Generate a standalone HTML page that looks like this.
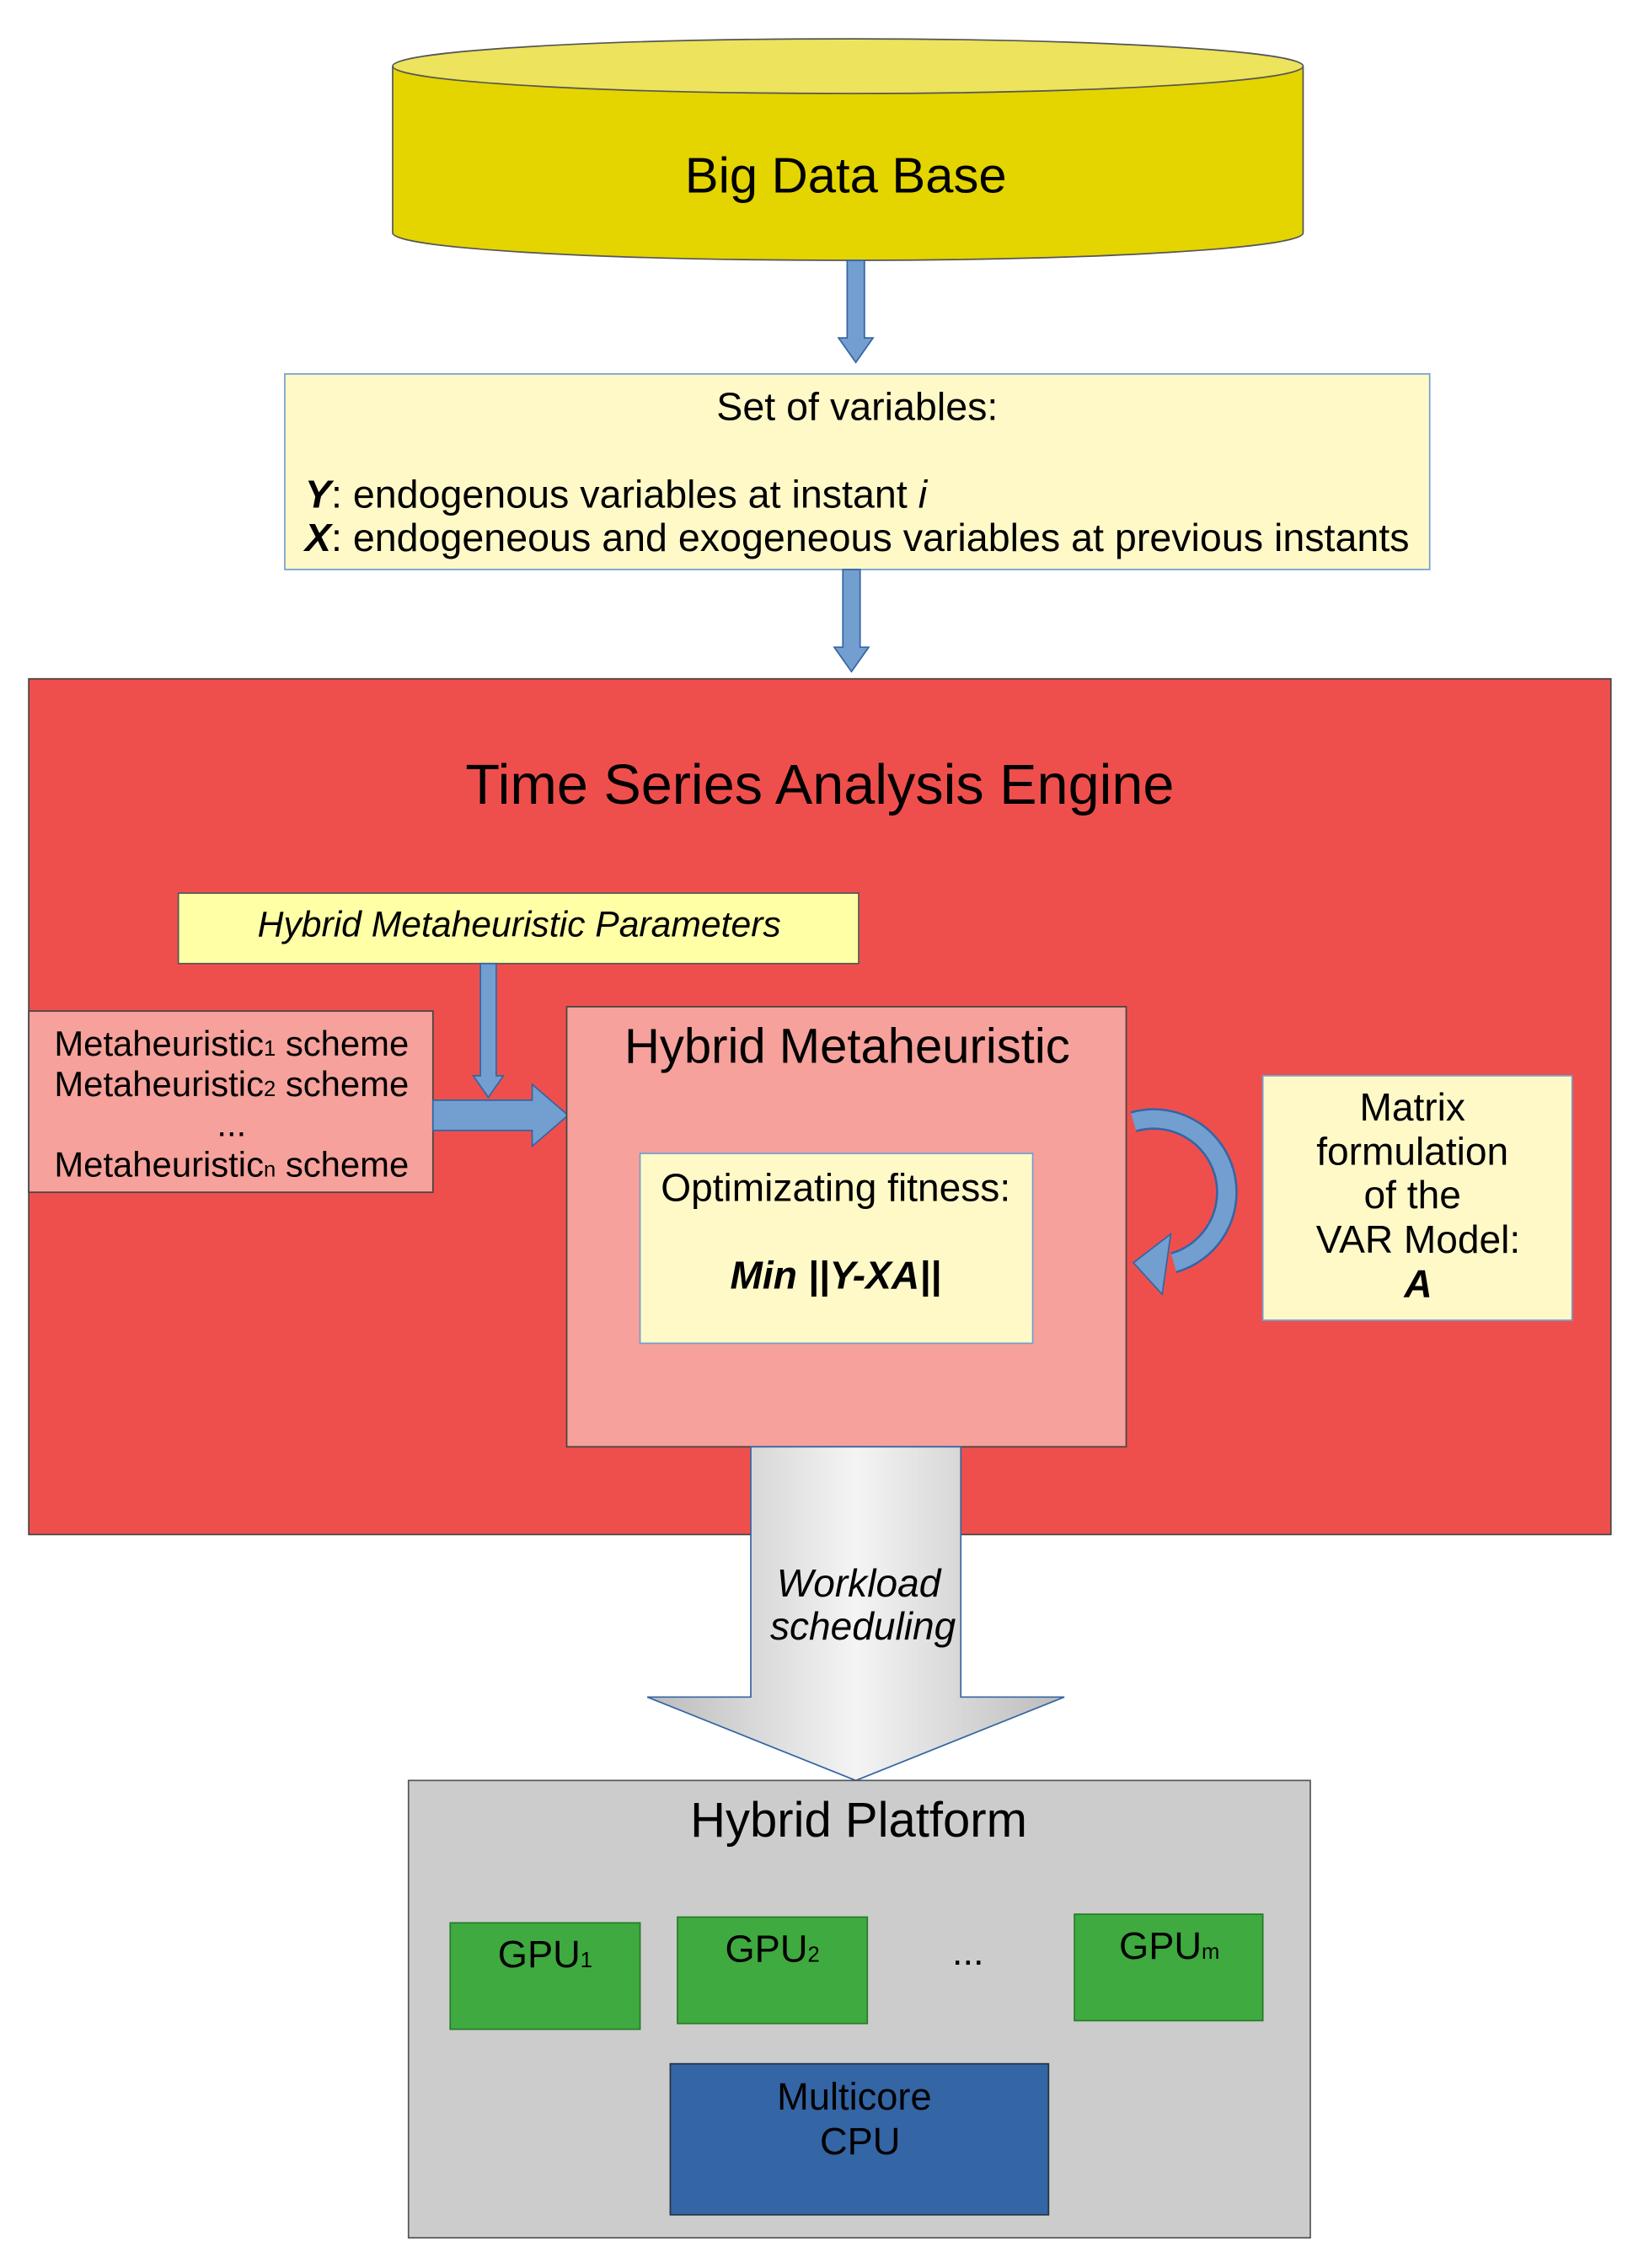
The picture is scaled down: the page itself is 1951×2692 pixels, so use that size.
<!DOCTYPE html>
<html><head><meta charset="utf-8"><style>html,body{margin:0;padding:0;background:#fff}svg{display:block}text{font-family:"Liberation Sans",sans-serif}</style></head><body>
<svg width="1951" height="2692" viewBox="0 0 1143 1577" preserveAspectRatio="none" xmlns="http://www.w3.org/2000/svg">
<defs>
<linearGradient id="g" x1="0" x2="1" y1="0" y2="0"><stop offset="0" stop-color="#bbbbbb"/><stop offset="0.5" stop-color="#f4f4f4"/><stop offset="1" stop-color="#bbbbbb"/></linearGradient>
</defs>
<path d="M273,46 L273,162 A316.5,19 0 0 0 906,162 L906,46" fill="#e4d400" stroke="#555" stroke-width="1"/>
<ellipse cx="589.5" cy="46" rx="316.5" ry="19" fill="#ede35c" stroke="#555" stroke-width="1"/>
<text x="588" y="134" font-size="35" text-anchor="middle">Big Data Base</text>
<path d="M589,181 L601,181 L601,235 L607,235 L595,252 L583,235 L589,235 Z" fill="#729fcf" stroke="#3465a4" stroke-width="1"/>
<rect x="198" y="260" width="796" height="136" fill="#fff9c8" stroke="#729fcf"/>
<text x="596" y="292" font-size="27.3" text-anchor="middle">Set of variables:</text>
<text x="212" y="353" font-size="27.3"><tspan font-weight="bold" font-style="italic">Y</tspan>: endogenous variables at instant <tspan font-style="italic">i</tspan></text>
<text x="212" y="383" font-size="27.3"><tspan font-weight="bold" font-style="italic">X</tspan>: endogeneous and exogeneous variables at previous instants</text>
<path d="M586,396 L598,396 L598,450 L604,450 L592,467 L580,450 L586,450 Z" fill="#729fcf" stroke="#3465a4" stroke-width="1"/>
<rect x="20" y="472" width="1100" height="595" fill="#ef4f4c" stroke="#444"/>
<text x="570" y="559" font-size="39" text-anchor="middle">Time Series Analysis Engine</text>
<rect x="124" y="621" width="473" height="49" fill="#ffffa6" stroke="#555"/>
<text x="361" y="651" font-size="25" font-style="italic" text-anchor="middle">Hybrid Metaheuristic Parameters</text>
<rect x="20" y="703" width="281" height="126" fill="#f6a19b" stroke="#444"/>
<g font-size="24.5" text-anchor="middle">
<text x="161" y="734">Metaheuristic<tspan font-size="15">1</tspan> scheme</text>
<text x="161" y="762">Metaheuristic<tspan font-size="15">2</tspan> scheme</text>
<text x="161" y="790">...</text>
<text x="161" y="818">Metaheuristic<tspan font-size="15">n</tspan> scheme</text>
</g>
<path d="M334,670 L345,670 L345,748 L350,748 L339.5,763 L329,748 L334,748 Z" fill="#729fcf" stroke="#3465a4"/>
<path d="M301,765 L370,765 L370,754 L395,775.5 L370,797 L370,786 L301,786 Z" fill="#729fcf" stroke="#3465a4"/>
<rect x="394" y="700" width="389" height="306" fill="#f6a19b" stroke="#444"/>
<text x="589" y="739" font-size="34" text-anchor="middle">Hybrid Metaheuristic</text>
<rect x="445" y="802" width="273" height="132" fill="#fff9c8" stroke="#729fcf"/>
<text x="581" y="835" font-size="27" text-anchor="middle">Optimizating fitness:</text>
<text x="581" y="896" font-size="27" font-weight="bold" font-style="italic" text-anchor="middle">Min ||Y-XA||</text>
<path d="M788,780 A50,50 0 1 1 816,878" fill="none" stroke="#3465a4" stroke-width="15"/>
<path d="M788,780 A50,50 0 1 1 816,878" fill="none" stroke="#729fcf" stroke-width="12"/>
<path d="M814,858 L788,878 L808,900 Z" fill="#729fcf" stroke="#3465a4"/>
<rect x="878" y="748" width="215" height="170" fill="#fff9c8" stroke="#729fcf"/>
<g font-size="27" text-anchor="middle">
<text x="982" y="779">Matrix</text>
<text x="982" y="810">formulation</text>
<text x="982" y="840">of the</text>
<text x="986" y="871">VAR Model:</text>
<text x="986" y="902" font-weight="bold" font-style="italic">A</text>
</g>
<path d="M522,1006 L668,1006 L668,1180 L740,1180 L595,1238 L450,1180 L522,1180 Z" fill="url(#g)" stroke="#3465a4" stroke-width="1"/>
<text x="597" y="1110" font-size="27" font-style="italic" text-anchor="middle">Workload</text>
<text x="600" y="1140" font-size="27" font-style="italic" text-anchor="middle">scheduling</text>
<rect x="284" y="1238" width="627" height="318" fill="#cccccc" stroke="#555"/>
<text x="597" y="1277" font-size="34" text-anchor="middle">Hybrid Platform</text>
<rect x="313" y="1337" width="132" height="74" fill="#3faa3f" stroke="#2a7a2a"/>
<text x="379" y="1368" font-size="26.5" text-anchor="middle">GPU<tspan font-size="15">1</tspan></text>
<rect x="471" y="1333" width="132" height="74" fill="#3faa3f" stroke="#2a7a2a"/>
<text x="537" y="1364" font-size="26.5" text-anchor="middle">GPU<tspan font-size="15">2</tspan></text>
<text x="673" y="1366" font-size="26.5" text-anchor="middle">...</text>
<rect x="747" y="1331" width="131" height="74" fill="#3faa3f" stroke="#2a7a2a"/>
<text x="813" y="1362" font-size="26.5" text-anchor="middle">GPU<tspan font-size="15">m</tspan></text>
<rect x="466" y="1435" width="263" height="105" fill="#3465a4" stroke="#234"/>
<text x="594" y="1467" font-size="26.5" text-anchor="middle">Multicore</text>
<text x="598" y="1498" font-size="26.5" text-anchor="middle">CPU</text>
</svg>
</body></html>
